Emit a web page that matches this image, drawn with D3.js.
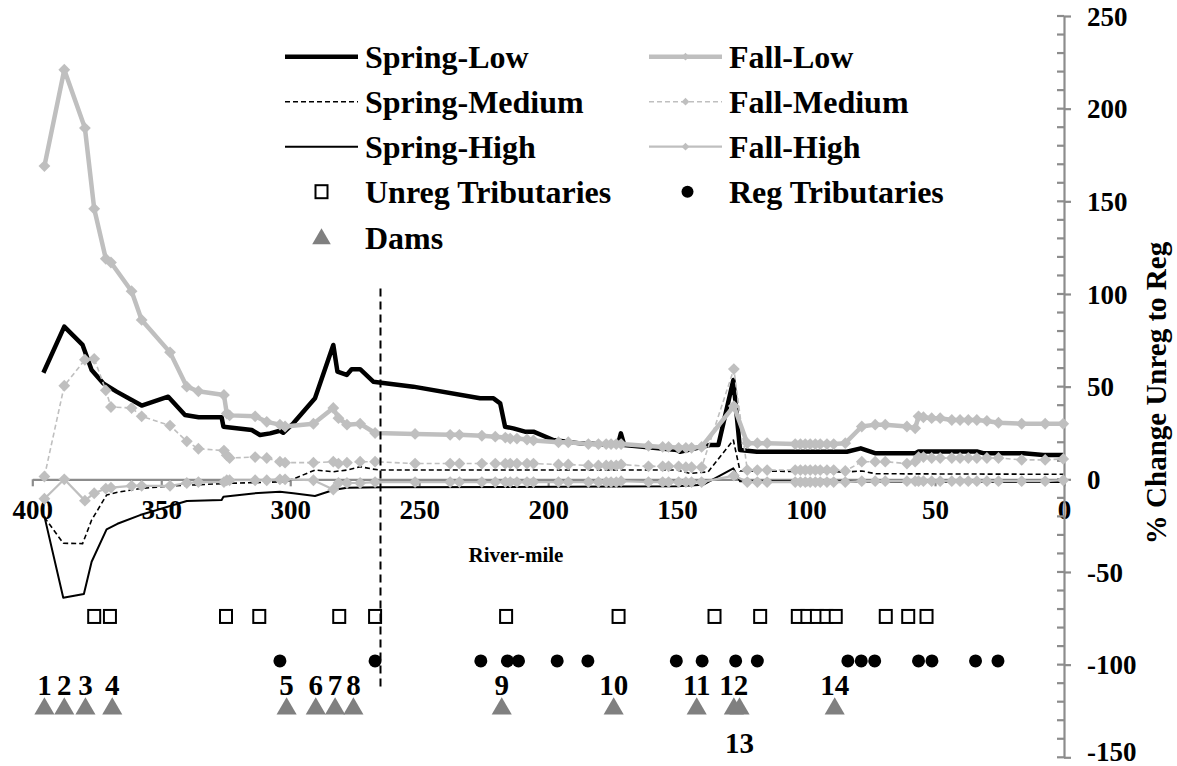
<!DOCTYPE html>
<html>
<head>
<meta charset="utf-8">
<script src="https://d3js.org/d3.v7.min.js"></script>
<style>
  html, body { margin: 0; padding: 0; background: #fff; }
  svg { display: block; font-family: "Liberation Serif", "Times New Roman", serif; font-weight: bold; }
</style>
</head>
<body>
<svg id="chart" width="1177" height="766"></svg>
<script>
// ---- River-mile nodes shared by the fall scenarios ----
const fallRM = [395.3, 387.6, 379.6, 376, 371.5, 369.5, 361.5, 357.6, 346.6, 340.1,
  335.6, 325.7, 324.6, 323.5, 313.6, 309.1, 304, 302, 291, 283.3,
  281.3, 278, 272.9, 267.1, 251.6, 238, 234.4, 225.7, 220.5, 216.6,
  214.7, 212.1, 208.2, 205.7, 196, 192.2, 184.4, 180.5, 177.5, 175.6,
  173.6, 171.7, 161.1, 155.6, 153.3, 149.4, 146.6, 144.4, 140.5, 128,
  122.8, 118.9, 115.1, 104.2, 102.2, 100.3, 98.4, 96.4, 94.5, 91.9,
  89.3, 84.8, 78.4, 73.2, 69.3, 60.9, 57.7, 56.4, 54.5, 51.3,
  48, 43.5, 40.3, 37.1, 33.8, 29.9, 25.4, 16.4, 7.3, 0.3];

const fallLow = [169, 221, 189.5, 146, 119, 117, 101.5, 86, 68.5, 50,
  47.5, 45.5, 35.5, 34.5, 34, 31, 29.5, 28.5, 30, 38.5,
  33, 29.5, 30, 25, 24.5, 24, 24, 23.5, 23, 22.5,
  22, 22, 21.5, 21, 20, 20, 19, 19, 19, 19,
  19, 19, 18, 17.5, 17.5, 17, 17, 17, 17.5, 39.5,
  19.5, 19.5, 19.5, 19, 19, 19, 19, 19, 19, 19,
  19, 19.5, 28.5, 29.5, 29.5, 28.5, 27.5, 34, 33.5, 33,
  33, 32, 32, 32, 32, 31.5, 30.5, 30, 30, 30];

const fallMedium = [1.5, 50.5, 64.5, 65, 48, 39, 38.5, 34, 29, 20.5,
  16.5, 15.5, 13, 11.5, 12, 11.5, 9.5, 9, 9, 9.5,
  8.5, 9, 9.5, 9.5, 8.5, 8.5, 8.5, 8.5, 8.5, 8.5,
  8.5, 8.5, 8.5, 8.5, 8, 8, 7.5, 7.5, 7.5, 7.5,
  7.5, 8, 7, 7, 7, 7, 6.5, 6.5, 6.5, 59.5,
  5, 5, 5, 5, 5, 5, 5, 5, 5, 5,
  5, 4.5, 9.5, 9.5, 9.5, 8.5, 9.5, 12, 12, 11.5,
  11.5, 11.5, 11.5, 11.5, 11.5, 11.5, 11.5, 10.5, 10.5, 11];

const fallHigh = [-10.5, 0, -11.5, -7.5, -5, -4.5, -3.5, -3.5, -3.5, -2,
  -1.5, -1.5, -0.5, -0.5, -0.5, -0.5, 0, 0, -0.5, -5.5,
  -2, -2, -2, -1.5, -1.5, -1.5, -1.5, -1.5, -1.5, -1.5,
  -1.5, -1.5, -1.5, -1.5, -1.5, -1.5, -1.5, -1.5, -1.5, -1.5,
  -1.5, -1, -1.5, -1.5, -1.5, -1.5, -1.5, -1.5, -1.5, 2,
  -1.5, -1.5, -1.5, -1.5, -1.5, -1.5, -1.5, -1.5, -1.5, -1.5,
  -1.5, -1.5, -1, -1, -1, -1, -1, -1, -1, -1,
  -1, -1, -1, -1, -1, -1, -1, -1, -1, -0.5];

// ---- Spring scenarios (no markers) ----
const springLowRM = [395.7, 387.6, 380.5, 377, 372.5, 367.3, 357.6, 347.3, 340.8, 335.5,
  326.6, 325.9, 314.9, 311.7, 307.8, 304, 302.7, 298.8, 290.4, 283.3,
  281.7, 278.1, 276.2, 272.9, 267.8, 252.3, 226.4, 221.2, 218.6, 216.7,
  213.5, 209, 205.7, 198, 187.6, 173, 171.8, 170.5, 150, 148.9,
  137.3, 134, 128.2, 125.6, 119.1, 84.2, 78.8, 73, 57.7, 56.4,
  33.8, 31, 15.7, 8, 0.3];
const springLow = [57.5, 82.4, 72.5, 59, 51.8, 47.3, 39.8, 44.6, 34.7, 33.5,
  33.5, 28.4, 26.6, 23.9, 24.8, 26.2, 25.1, 30.2, 43.7, 72.5,
  58.1, 56.3, 59.4, 59.4, 52.7, 50, 43.7, 43.7, 41, 28.4,
  27.5, 25.7, 25.7, 21.2, 19.4, 18.5, 24.8, 18.5, 15.8, 14.9,
  18.5, 18.5, 53.6, 15.8, 14.9, 14.9, 16.7, 14, 14, 15,
  15, 14, 14, 13.1, 13.1];

const springMediumRM = [395.3, 388, 380.5, 377, 371.2, 367, 358.2, 346, 336.3, 324.6,
  301.4, 290.4, 283.3, 278, 272.9, 268, 265.2, 150, 145, 138,
  128.2, 125.6, 84, 78.4, 73, 0.3];
const springMedium = [-20.5, -34.5, -34.7, -22, -8.5, -7, -5, -3.5, -3, -2.2,
  -1.3, 5, 4.1, 5, 6.8, 5.5, 5, 5, 3.2, 4,
  21.2, 4.5, 4, 4.5, 3, 2.7];

const springHighRM = [395.3, 388, 380, 377, 371.2, 367, 358.2, 345.3, 340.1, 326.6,
  325.9, 314.3, 304, 298.8, 290.4, 283.3, 278, 265.2, 150, 140,
  128.2, 125.6, 0.3];
const springHigh = [-20, -63.9, -61.9, -44.5, -27, -24, -19.3, -13.9, -11.7, -11.2,
  -9.4, -7.6, -6.7, -7.5, -9, -5.8, -4.5, -4.3, -3.8, -3,
  5.9, -1, -1.5];

// ---- Tributary and dam locations ----
const unregRM = [376, 369.9, 324.9, 312, 281, 267.1, 216.3, 172.7, 135.5, 117.8,
  103.2, 99.5, 95.8, 92.1, 88.5, 69.1, 60.4, 53.3];
const unregLevel = -74;
const regRM = [304, 267.1, 226.1, 215.8, 211.5, 196.5, 184.6, 150.3, 140.3, 127.3,
  118.9, 83.8, 78.6, 73.4, 56.4, 51.2, 34.3, 25.6];
const regLevel = -98;
const damRM = [395.3, 387.6, 379.4, 369, 301.4, 290.1, 282.6, 275.5, 218, 174.6,
  142.4, 128, 125.8, 88.9];
const damLabels = ["1", "2", "3", "4", "5", "6", "7", "8", "9", "10", "11", "12", "13", "14"];
const damLevel = -123;

// Marker line at the study-reach boundary
const boundaryRM = [265, 265];
const boundaryLevel = [103, -113];

// Axis ticks
const xTicks = [400, 350, 300, 250, 200, 150, 100, 50, 0];
const yTicks = [-150, -100, -50, 0, 50, 100, 150, 200, 250];

// ---- Scales ----
const x = d3.scaleLinear().domain([400, 0]).range([32.3, 1064]);
const y = d3.scaleLinear().domain([-150, 250]).range([757.3, 16]);

const svg = d3.select("#chart");
const GRAY = "#BFBFBF";
const AXIS = "#8C8C8C";
const FONT = "Liberation Serif, Times New Roman, serif";
const plain = d => String(d);   // hyphen-minus, as in the printed axis

// ---- Horizontal axis on the zero line ----
const xAxis = svg.append("g")
  .attr("transform", `translate(0,${y(0)})`)
  .call(d3.axisBottom(x).tickValues(xTicks).tickSize(7).tickSizeOuter(0)
    .tickPadding(14).tickFormat(plain));
xAxis.select(".domain").attr("stroke", AXIS).attr("stroke-width", 2.2);
xAxis.selectAll(".tick line").attr("stroke", AXIS).attr("stroke-width", 2.2);
xAxis.selectAll(".tick text")
  .attr("fill", "#000").attr("font-size", 27).attr("font-weight", "bold")
  .attr("font-family", FONT);

// ---- Vertical axis on the right ----
const yAxisX = x(0);
const yAxis = svg.append("g")
  .attr("transform", `translate(${yAxisX},0)`)
  .call(d3.axisRight(y).tickValues(yTicks).tickSize(7).tickSizeOuter(0)
    .tickPadding(16).tickFormat(plain));
yAxis.select(".domain").attr("stroke", AXIS).attr("stroke-width", 2.2);
yAxis.selectAll(".tick line").attr("stroke", AXIS).attr("stroke-width", 2.2);
yAxis.selectAll(".tick text")
  .attr("fill", "#000").attr("font-size", 27).attr("font-weight", "bold")
  .attr("font-family", FONT)
  .attr("dy", d => d === yTicks[0] ? "0.1em" : "0.34em");
// inner half of major ticks and minor ticks
const minorTicks = d3.range(-150, 251, 10);
yAxis.selectAll(".inner-tick")
  .data(minorTicks)
  .join("line")
  .attr("x1", -7).attr("x2", 0)
  .attr("y1", d => y(d)).attr("y2", d => y(d))
  .attr("stroke", AXIS).attr("stroke-width", 2.2);

// Axis titles
svg.append("text")
  .attr("x", 516).attr("y", 562)
  .attr("text-anchor", "middle")
  .attr("font-size", 21)
  .text("River-mile");

svg.append("text")
  .attr("transform", "translate(1166,393) rotate(-90)")
  .attr("text-anchor", "middle")
  .attr("font-size", 29)
  .text("% Change Unreg to Reg");

// ---- Series ----
const line = d3.line().x(d => x(d[0])).y(d => y(d[1]));
const diamond = d3.symbol(d3.symbolSquare, 70)();

const series = [
  { rm: springLowRM, v: springLow, color: "#000", width: 4.5, dash: null, marker: false },
  { rm: fallRM, v: fallLow, color: GRAY, width: 4.5, dash: null, marker: true },
  { rm: springMediumRM, v: springMedium, color: "#000", width: 1.6, dash: "5,3", marker: false },
  { rm: fallRM, v: fallMedium, color: GRAY, width: 1.6, dash: "5,3", marker: true },
  { rm: springHighRM, v: springHigh, color: "#000", width: 2, dash: null, marker: false },
  { rm: fallRM, v: fallHigh, color: GRAY, width: 2.2, dash: null, marker: true }
];

series.forEach(s => {
  const pts = d3.zip(s.rm, s.v);
  const g = svg.append("g");
  g.append("path")
    .datum(pts)
    .attr("d", line)
    .attr("fill", "none")
    .attr("stroke", s.color)
    .attr("stroke-width", s.width)
    .attr("stroke-linejoin", "round")
    .attr("stroke-dasharray", s.dash);
  if (s.marker) {
    g.selectAll("path.mk")
      .data(pts)
      .join("path")
      .attr("class", "mk")
      .attr("d", diamond)
      .attr("transform", d => `translate(${x(d[0])},${y(d[1])}) rotate(45)`)
      .attr("fill", GRAY);
  }
});

// Unregulated tributaries
svg.append("g").selectAll("rect")
  .data(unregRM)
  .join("rect")
  .attr("x", d => x(d) - 6).attr("y", y(unregLevel) - 6.5)
  .attr("width", 12).attr("height", 13)
  .attr("fill", "#fff").attr("stroke", "#000").attr("stroke-width", 2);

// Regulated tributaries
svg.append("g").selectAll("circle")
  .data(regRM)
  .join("circle")
  .attr("cx", d => x(d)).attr("cy", y(regLevel))
  .attr("r", 6.5)
  .attr("fill", "#000");

// Dams
const tri = d3.symbol(d3.symbolTriangle, 175)();
const damG = svg.append("g");
damG.selectAll("path")
  .data(damRM)
  .join("path")
  .attr("d", tri)
  .attr("transform", d => `translate(${x(d)},${y(damLevel) + 1.5})`)
  .attr("fill", "#808080");
damG.selectAll("text")
  .data(damRM)
  .join("text")
  .attr("x", d => x(d))
  .attr("y", (d, i) => damLabels[i] === "13" ? y(damLevel) + 46 : y(damLevel) - 12)
  .attr("text-anchor", "middle")
  .attr("font-size", 29)
  .text((d, i) => damLabels[i]);

// Reach boundary
svg.append("path")
  .datum(d3.zip(boundaryRM, boundaryLevel))
  .attr("d", line)
  .attr("stroke", "#000").attr("stroke-width", 2)
  .attr("stroke-dasharray", "8,5")
  .attr("fill", "none");

// ---- Legend ----
const legendRows = [56.7, 101.7, 146.7, 191.7, 238];
const legendCols = [{ x0: 285, x1: 358, tx: 365 }, { x0: 649, x1: 722, tx: 729 }];
const legendItems = [
  { name: "Spring-Low", col: 0, row: 0, type: "line", color: "#000", width: 4.5, dash: null },
  { name: "Fall-Low", col: 1, row: 0, type: "line", color: GRAY, width: 4.5, dash: null, marker: true },
  { name: "Spring-Medium", col: 0, row: 1, type: "line", color: "#000", width: 1.6, dash: "5,3" },
  { name: "Fall-Medium", col: 1, row: 1, type: "line", color: GRAY, width: 1.6, dash: "5,3", marker: true },
  { name: "Spring-High", col: 0, row: 2, type: "line", color: "#000", width: 2, dash: null },
  { name: "Fall-High", col: 1, row: 2, type: "line", color: GRAY, width: 2.2, dash: null, marker: true },
  { name: "Unreg Tributaries", col: 0, row: 3, type: "square" },
  { name: "Reg Tributaries", col: 1, row: 3, type: "dot" },
  { name: "Dams", col: 0, row: 4, type: "triangle" }
];
const leg = svg.append("g");
legendItems.forEach(it => {
  const c = legendCols[it.col];
  const cy = legendRows[it.row];
  const cx = (c.x0 + c.x1) / 2;
  if (it.type === "line") {
    leg.append("line")
      .attr("x1", c.x0).attr("x2", c.x1).attr("y1", cy).attr("y2", cy)
      .attr("stroke", it.color).attr("stroke-width", it.width)
      .attr("stroke-dasharray", it.dash);
    if (it.marker) {
      leg.append("path")
        .attr("d", d3.symbol(d3.symbolSquare, 30)())
        .attr("transform", `translate(${cx},${cy}) rotate(45)`)
        .attr("fill", GRAY);
    }
  } else if (it.type === "square") {
    leg.append("rect")
      .attr("x", cx - 6).attr("y", cy - 6.5).attr("width", 12).attr("height", 13)
      .attr("fill", "#fff").attr("stroke", "#000").attr("stroke-width", 2);
  } else if (it.type === "dot") {
    leg.append("circle").attr("cx", cx + 2).attr("cy", cy).attr("r", 6).attr("fill", "#000");
  } else if (it.type === "triangle") {
    leg.append("path").attr("d", d3.symbol(d3.symbolTriangle, 150)())
      .attr("transform", `translate(${cx},${cy + 1})`).attr("fill", "#808080");
  }
  leg.append("text")
    .attr("x", c.tx).attr("y", cy + 11)
    .attr("font-size", 32)
    .text(it.name);
});
</script>
</body>
</html>
